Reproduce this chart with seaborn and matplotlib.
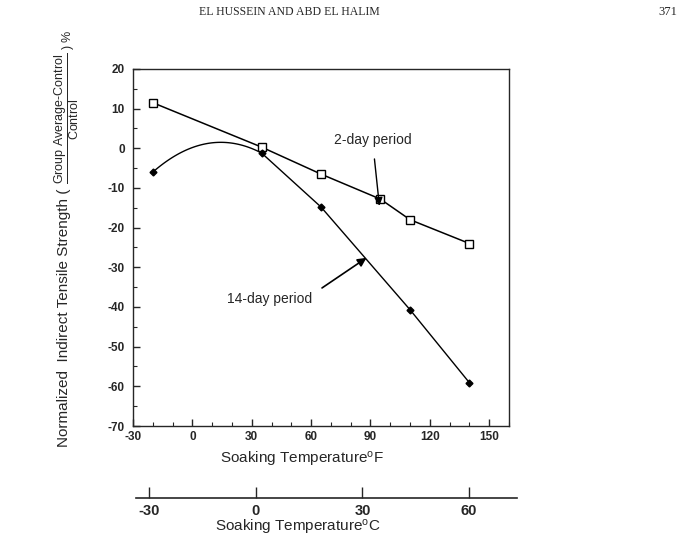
import numpy as np
import pandas as pd
import matplotlib
matplotlib.use('Agg')
import matplotlib.pyplot as plt
from matplotlib.ticker import MultipleLocator
import seaborn as sns

# datos
temp_f_2dias = [-20, 35, 65, 95, 110, 140]
resist_2dias = [11.5, 0.3, -6.5, -12.8, -18.0, -24.0]
temp_f_14dias = [-20, 35, 65, 110, 140]
resist_14dias = [-6.0, -1.2, -14.8, -40.7, -59.1]

ticks_f = [-30, 0, 30, 60, 90, 120, 150]
ticks_c = [-30, 0, 30, 60]
ticks_y = [20, 10, 0, -10, -20, -30, -40, -50, -60, -70]

sns.set_style('ticks')
plt.rcParams['font.family'] = ['Liberation Sans', 'DejaVu Sans']
plt.rcParams['axes.unicode_minus'] = False
plt.rcParams['mathtext.fontset'] = 'custom'
plt.rcParams['mathtext.rm'] = 'Liberation Sans'
plt.rcParams['mathtext.it'] = 'Liberation Sans:italic'
plt.rcParams['mathtext.bf'] = 'Liberation Sans:bold'

fig = plt.figure(figsize=(6.95, 5.47), dpi=100)
ax = fig.add_axes([0.1914, 0.2212, 0.541, 0.6527])

d2 = pd.DataFrame({'F': temp_f_2dias, 'val': resist_2dias})

# 2 dias: linea recta con cuadrados abiertos
sns.lineplot(data=d2, x='F', y='val', ax=ax, color='black', lw=1.1,
             marker='s', markersize=6, markerfacecolor='white',
             markeredgecolor='black', markeredgewidth=1.0)

# 14 dias: tramo curvo entre los tres primeros puntos (ajuste cuadratico)
coef = np.polyfit(temp_f_14dias[:3], resist_14dias[:3], 2)
xs = np.linspace(temp_f_14dias[0], temp_f_14dias[1], 60)
sns.lineplot(x=xs, y=np.polyval(coef, xs), ax=ax, color='black', lw=1.0)
sns.lineplot(x=temp_f_14dias[1:], y=resist_14dias[1:], ax=ax, color='black', lw=1.0)
ax.plot(temp_f_14dias, resist_14dias, ls='none', marker='D', markersize=3.5,
        color='black')

ax.set_xlim(-30, 160)
ax.set_ylim(-70, 20)
ax.set_xticks(ticks_f)
ax.set_yticks(ticks_y)
ax.xaxis.set_minor_locator(MultipleLocator(10))
ax.yaxis.set_minor_locator(MultipleLocator(5))
ax.tick_params(which='both', direction='in', top=False, right=False,
               labelsize=8.5)
ax.tick_params(which='major', length=5, width=1)
ax.tick_params(which='minor', length=3, width=0.8)
ax.tick_params(axis='y', pad=6)
for lab in ax.get_xticklabels() + ax.get_yticklabels():
    lab.set_fontweight('bold')
for s in ax.spines.values():
    s.set_linewidth(1.0)
ax.set_xlabel('')
ax.set_ylabel('')

ax.text(0.45, -0.095, r'Soaking Temperature$^{\rm o}$F', transform=ax.transAxes,
        ha='center', va='center', fontsize=11)

# anotaciones
ax.annotate('2-day period', xy=(94.5, -14.5), xytext=(91, 2.0),
            ha='center', va='center', fontsize=10,
            arrowprops=dict(arrowstyle='-|>', color='black', lw=1.0,
                            shrinkA=6, shrinkB=0, mutation_scale=12))
ax.annotate('', xy=(88, -27.6), xytext=(65.5, -35.2),
            arrowprops=dict(arrowstyle='-|>', color='black', lw=1.2,
                            shrinkA=0, shrinkB=0, mutation_scale=13))
ax.text(39, -38, '14-day period', ha='center', va='center', fontsize=10)

# eje en grados Celsius
axc = fig.add_axes([0.1957, 0.0896, 0.548, 0.001])
axc.set_xlim(-33.6, 73.4)
axc.set_xticks(ticks_c)
axc.set_yticks([])
for side in ['top', 'left', 'right']:
    axc.spines[side].set_visible(False)
axc.spines['bottom'].set_linewidth(1.2)
axc.tick_params(axis='x', direction='in', length=8, width=1, labelsize=10.5,
                pad=4)
for lab in axc.get_xticklabels():
    lab.set_fontweight('bold')
fig.text(0.429, 0.036, r'Soaking Temperature$^{\rm o}$C', ha='center',
         va='center', fontsize=11)

# titulo del eje y: texto + fraccion en dos partes
t1 = fig.text(0.0978, 0.183, 'Normalized  Indirect Tensile Strength ( ',
              rotation=90, rotation_mode='anchor', ha='left', va='baseline',
              fontsize=11)
fig.canvas.draw()
fin_t1 = t1.get_window_extent().y1 / fig.bbox.height
guion = '\u2010'
frac = (r'$\dfrac{\rm Group\ Average' + guion + r'Control}{\rm Control}$'
        + ' ) %')
fig.text(0.1035, fin_t1, frac, rotation=90, rotation_mode='anchor',
         ha='left', va='baseline', fontsize=9)

# encabezado de pagina
fig.text(0.416, 0.978, 'EL HUSSEIN AND ABD EL HALIM', ha='center', va='center',
         fontsize=8.5, family='Liberation Serif')
fig.text(0.961, 0.978, '371', ha='center', va='center', fontsize=9,
         family='Liberation Serif')

fig.savefig('out.png', dpi=100)
